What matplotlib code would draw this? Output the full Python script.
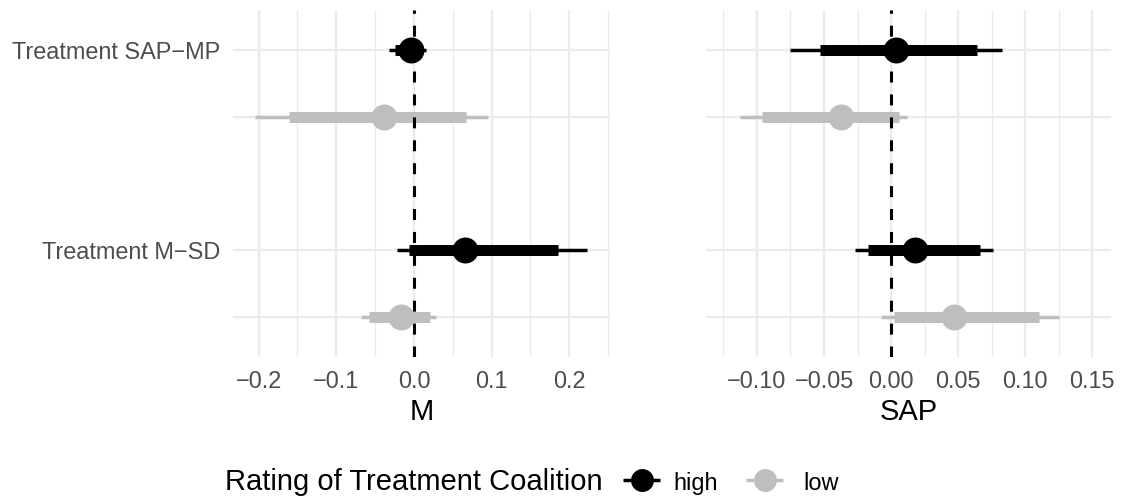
import matplotlib
matplotlib.use("Agg")
import matplotlib.pyplot as plt
from matplotlib.lines import Line2D

plt.rcParams['font.family'] = ['Liberation Sans', 'DejaVu Sans']
plt.rcParams['lines.scale_dashes'] = False

# rows: SAP-MP high, SAP-MP low, M-SD high, M-SD low
row_y = [1, 2, 4, 5]
row_group = ['high', 'low', 'high', 'low']
y_labels = ['Treatment SAP−MP', '', 'Treatment M−SD', '']
colors = {'high': 'black', 'low': '#BEBEBE'}

# panel M
m_est = [-0.004, -0.038, 0.066, -0.016]
m_lo90 = [-0.024, -0.161, -0.006, -0.058]
m_hi90 = [0.011, 0.067, 0.185, 0.021]
m_lo95 = [-0.032, -0.205, -0.022, -0.068]
m_hi95 = [0.016, 0.095, 0.223, 0.029]

# panel SAP
s_est = [0.004, -0.037, 0.018, 0.047]
s_lo90 = [-0.053, -0.0965, -0.017, 0.002]
s_hi90 = [0.064, 0.006, 0.066, 0.110]
s_lo95 = [-0.075, -0.113, -0.027, -0.0075]
s_hi95 = [0.083, 0.012, 0.076, 0.125]

m_ticks = [-0.2, -0.1, 0.0, 0.1, 0.2]
m_ticklabels = ['−0.2', '−0.1', '0.0', '0.1', '0.2']
m_minor = [-0.15, -0.05, 0.05, 0.15, 0.25]
s_ticks = [-0.10, -0.05, 0.0, 0.05, 0.10, 0.15]
s_ticklabels = ['−0.10', '−0.05', '0.00', '0.05', '0.10', '0.15']
s_minor = [-0.125, -0.075, -0.025, 0.025, 0.075, 0.125]

W, H = 1127, 498
fig = plt.figure(figsize=(W / 100, H / 100), dpi=100)


def px_rect(x0, x1, ytop, ybot):
    return [x0 / W, 1 - ybot / H, (x1 - x0) / W, (ybot - ytop) / H]


ax1 = fig.add_axes(px_rect(233, 610, 10, 357))
ax2 = fig.add_axes(px_rect(706, 1111, 10, 357))

grid_c = '#EBEBEB'
tick_fs = 16.9
title_fs = 21


def draw_panel(ax, est, lo90, hi90, lo95, hi95, ticks, ticklabels, minor, xlim, title):
    for i in range(len(row_y)):
        c = colors[row_group[i]]
        y = row_y[i]
        ax.plot([lo95[i], hi95[i]], [y, y], color=c, lw=2.5, solid_capstyle='butt', zorder=3)
        ax.plot([lo90[i], hi90[i]], [y, y], color=c, lw=7.9, solid_capstyle='butt', zorder=4)
        ax.plot([est[i]], [y], 'o', color=c, ms=18.7, mec='none', zorder=5)
    ax.axvline(0, color='black', lw=2.2, ls=(0, (7.9, 8.6)), zorder=6)
    ax.set_xlim(*xlim)
    ax.set_ylim(5.6, 0.4)
    ax.set_xticks(ticks)
    ax.set_xticklabels(ticklabels)
    ax.set_xticks(minor, minor=True)
    ax.set_yticks(row_y)
    ax.grid(which='major', color=grid_c, lw=1.6)
    ax.grid(which='minor', axis='x', color=grid_c, lw=1.0)
    ax.set_axisbelow(True)
    for s in ax.spines.values():
        s.set_visible(False)
    ax.tick_params(which='both', length=0, labelsize=tick_fs, labelcolor='#4D4D4D')
    ax.tick_params(axis='x', pad=9)
    ax.tick_params(axis='y', pad=9.4)
    ax.set_xlabel(title, fontsize=title_fs, labelpad=4)


draw_panel(ax1, m_est, m_lo90, m_hi90, m_lo95, m_hi95, m_ticks, m_ticklabels, m_minor,
           (-0.233, 0.2526), 'M')
draw_panel(ax2, s_est, s_lo90, s_hi90, s_lo95, s_hi95, s_ticks, s_ticklabels, s_minor,
           (-0.138, 0.164), 'SAP')
ax1.set_yticklabels(y_labels)
ax2.set_yticklabels([])

# legend at the bottom
base_y = 1 - 490 / H
key_y = 1 - 480 / H
fig.text(225 / W, base_y, 'Rating of Treatment Coalition', fontsize=title_fs, va='baseline')
legend_items = [('high', 623, 660, 673), ('low', 746, 783, 803)]
for lab, k0, k1, tx in legend_items:
    c = colors[lab]
    fig.add_artist(Line2D([k0 / W, k1 / W], [key_y, key_y], color=c, lw=2.5,
                          solid_capstyle='butt', transform=fig.transFigure))
    fig.add_artist(Line2D([(k0 + k1) / 2 / W], [key_y], marker='o', color=c, ms=16.5,
                          mec='none', transform=fig.transFigure))
    fig.text(tx / W, base_y, lab, fontsize=tick_fs, va='baseline')

fig.savefig('out.png', dpi=100)
